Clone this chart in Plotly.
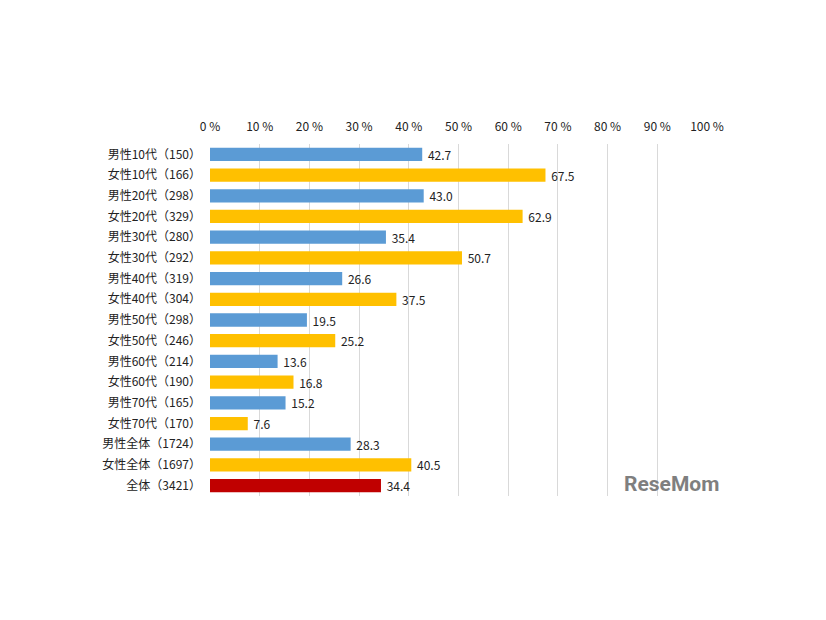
import plotly.graph_objects as go

categories = ["男性10代（150）", "女性10代（166）", "男性20代（298）", "女性20代（329）",
              "男性30代（280）", "女性30代（292）", "男性40代（319）", "女性40代（304）",
              "男性50代（298）", "女性50代（246）", "男性60代（214）", "女性60代（190）",
              "男性70代（165）", "女性70代（170）", "男性全体（1724）", "女性全体（1697）",
              "全体（3421）"]
values = [42.7, 67.5, 43.0, 62.9, 35.4, 50.7, 26.6, 37.5, 19.5, 25.2, 13.6, 16.8,
          15.2, 7.6, 28.3, 40.5, 34.4]
groups = ["m", "f"] * 8 + ["all"]
color_map = {"m": "#5B9BD5", "f": "#FFC000", "all": "#C00000"}
tick_vals = [0, 10, 20, 30, 40, 50, 60, 70, 80, 90, 100]
tick_text = ["0 %", "10 %", "20 %", "30 %", "40 %", "50 %", "60 %", "70 %", "80 %", "90 %", "100 %"]

font_family = "Noto Sans CJK JP, Noto Sans, sans-serif"

L, R, T, B = 202, 127, 136, 132
W, H = 826, 620

fig = go.Figure(go.Bar(
    x=values, y=categories, orientation="h",
    marker=dict(color=[color_map[g] for g in groups], line=dict(width=0)),
    text=["\u00a0" + f"{v:.1f}" for v in values], textposition="outside",
    constraintext="none",
    textfont=dict(size=12, color="#222222", family=font_family),
    cliponaxis=False,
))

fig.update_layout(
    width=W, height=H,
    margin=dict(l=L, r=R, t=T, b=B),
    paper_bgcolor="white", plot_bgcolor="white",
    bargap=0.36,
    showlegend=False,
    font=dict(family=font_family, size=12, color="#222222"),
    xaxis=dict(range=[0, 100], side="top", tickvals=tick_vals, ticktext=tick_text,
               showgrid=True, gridcolor="#D9D9D9", gridwidth=1, zeroline=False,
               showline=False, ticks="", tickfont=dict(size=12, color="#222222"),
               ticklabelstandoff=10),
    yaxis=dict(autorange="reversed", showgrid=False, showline=False, ticks="",
               tickfont=dict(size=12, color="#222222"), ticklabelstandoff=8),
    annotations=[dict(x=(671 - 8 - L) / (W - L - R), y=1 - (484 - 8 - T) / (H - T - B),
                      xref="paper", yref="paper", text="<b>ReseMom</b>",
                      xanchor="center", yanchor="middle",
                      showarrow=False, font=dict(size=21, color="#7f7f7f", family="Roboto"))]
)

fig.write_html("out.html")
